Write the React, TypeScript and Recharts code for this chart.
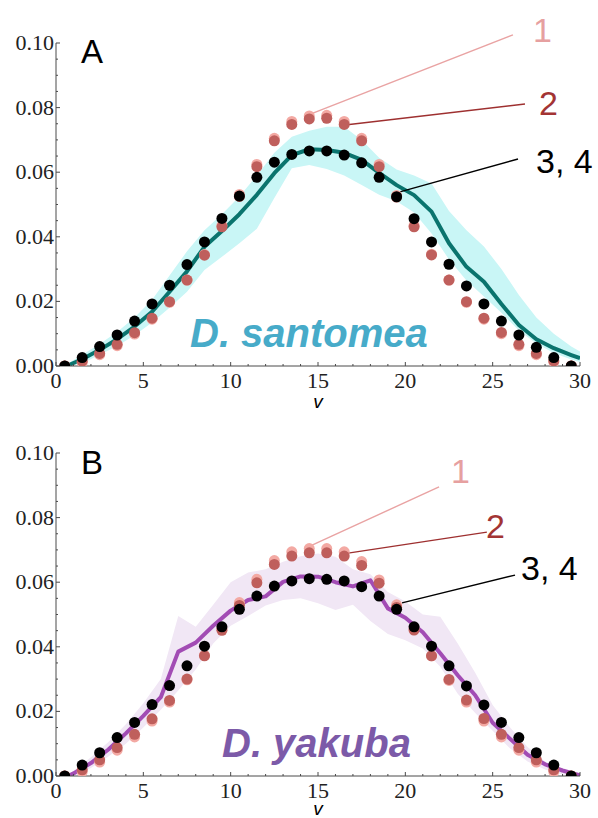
import { ComposedChart, Area, Line, Scatter, XAxis, YAxis, ReferenceLine } from 'recharts';

// sample points (v) shared by all dot series
const dotV = [0.5, 1.5, 2.5, 3.5, 4.5, 5.5, 6.5, 7.5, 8.5, 9.5, 10.5, 11.5, 12.5, 13.5, 14.5, 15.5, 16.5, 17.5, 18.5, 19.5, 20.5, 21.5, 22.5, 23.5, 24.5, 25.5, 26.5, 27.5, 28.5, 29.5];

// D. santomea
const santomea1 = [0, 0.0011, 0.0035, 0.0063, 0.0099, 0.0145, 0.0197, 0.0266, 0.0345, 0.0435, 0.0531, 0.0624, 0.0705, 0.0757, 0.0774, 0.0776, 0.0757, 0.0705, 0.0624, 0.0528, 0.0435, 0.0346, 0.0266, 0.0197, 0.0145, 0.01, 0.0063, 0.0035, 0.0012, 0];
const santomea2 = [0, 0.0015, 0.0039, 0.0067, 0.0103, 0.0148, 0.0199, 0.0266, 0.0343, 0.0431, 0.0525, 0.0617, 0.0697, 0.0748, 0.0765, 0.0767, 0.0748, 0.0697, 0.0617, 0.0523, 0.0431, 0.0344, 0.0266, 0.0199, 0.0148, 0.0104, 0.0067, 0.0039, 0.0016, 0];
const santomea34 = [0, 0.0026, 0.006, 0.0096, 0.0139, 0.0192, 0.025, 0.0314, 0.0384, 0.0457, 0.0526, 0.0584, 0.0631, 0.0655, 0.0666, 0.0666, 0.0653, 0.0629, 0.0584, 0.0524, 0.0456, 0.0384, 0.0315, 0.0248, 0.0192, 0.0139, 0.0096, 0.0058, 0.0026, 0];
const santomeaCurveV = [0.6, 1.5, 2.5, 3.5, 4.5, 5.5, 6.5, 7.5, 8.5, 9.5, 10.5, 11.5, 12.5, 13.5, 14.5, 15.5, 16.5, 17.5, 18.5, 19.5, 20.5, 21.5, 22.5, 23.5, 24.5, 25.5, 26.5, 27.5, 28.5, 29.5, 30];
const santomeaMid = [0, 0.0021, 0.005, 0.0083, 0.0122, 0.0168, 0.023, 0.0293, 0.0369, 0.0418, 0.047, 0.053, 0.0597, 0.0653, 0.0671, 0.0669, 0.066, 0.0638, 0.0598, 0.056, 0.0529, 0.0478, 0.038, 0.0307, 0.0261, 0.0192, 0.0127, 0.0083, 0.0055, 0.0034, 0.0024];
const santomeaLo = [0, 0.0008, 0.0035, 0.0062, 0.0095, 0.0135, 0.018, 0.023, 0.0297, 0.0338, 0.038, 0.0425, 0.052, 0.0612, 0.0622, 0.061, 0.059, 0.056, 0.053, 0.051, 0.0475, 0.041, 0.033, 0.0265, 0.0215, 0.0165, 0.011, 0.007, 0.004, 0.002, 0.0012];
const santomeaHi = [0.0005, 0.0035, 0.0068, 0.0105, 0.015, 0.0205, 0.028, 0.0355, 0.042, 0.047, 0.0525, 0.059, 0.066, 0.071, 0.0728, 0.0741, 0.0741, 0.07, 0.0645, 0.0608, 0.059, 0.0565, 0.048, 0.042, 0.037, 0.03, 0.022, 0.015, 0.01, 0.006, 0.0045];

// D. yakuba
const yakuba1 = [0, 0.0013, 0.0043, 0.008, 0.0121, 0.017, 0.0229, 0.0298, 0.0374, 0.0457, 0.0537, 0.0609, 0.0667, 0.0694, 0.0704, 0.0704, 0.0694, 0.0664, 0.0607, 0.053, 0.0456, 0.0372, 0.0296, 0.0229, 0.017, 0.0121, 0.008, 0.0043, 0.0013, 0];
const yakuba2 = [0, 0.0019, 0.005, 0.0088, 0.0129, 0.0177, 0.0234, 0.03, 0.0372, 0.0451, 0.0528, 0.0598, 0.0655, 0.0681, 0.0691, 0.0691, 0.0681, 0.0652, 0.0597, 0.0522, 0.0452, 0.0372, 0.0299, 0.0235, 0.0178, 0.0129, 0.0088, 0.005, 0.0019, 0];
const yakuba34 = [0, 0.0034, 0.0072, 0.0119, 0.0166, 0.0221, 0.028, 0.0341, 0.0402, 0.0462, 0.0516, 0.0557, 0.0588, 0.0604, 0.0611, 0.0609, 0.0604, 0.0586, 0.0557, 0.0516, 0.0462, 0.0402, 0.0341, 0.0279, 0.022, 0.0166, 0.0119, 0.0072, 0.0034, 0];
const yakubaCurveV = [0.7, 1, 2, 3, 4, 5, 6, 7, 8, 9, 10, 11, 12, 13, 14, 15, 16, 17, 18, 19, 20, 21, 22, 23, 24, 25, 26, 27, 28, 29, 30];
const yakubaMid = [0, 0.0008, 0.004, 0.0082, 0.0132, 0.0186, 0.0244, 0.0385, 0.0413, 0.0465, 0.0512, 0.0545, 0.0556, 0.0601, 0.0618, 0.0617, 0.06, 0.0587, 0.0606, 0.0519, 0.049, 0.0445, 0.038, 0.0312, 0.025, 0.0165, 0.0115, 0.0066, 0.0036, 0.0017, 0.0002];
const yakubaLo = [0, 0, 0.0025, 0.006, 0.01, 0.015, 0.0205, 0.0265, 0.033, 0.041, 0.0465, 0.0495, 0.0528, 0.0545, 0.055, 0.0535, 0.0514, 0.053, 0.048, 0.044, 0.042, 0.0395, 0.0338, 0.0255, 0.0195, 0.014, 0.0085, 0.0045, 0.002, 0.0005, 0];
const yakubaHi = [0.0003, 0.0015, 0.0058, 0.0105, 0.016, 0.0225, 0.03, 0.0495, 0.0462, 0.053, 0.06, 0.063, 0.064, 0.0663, 0.068, 0.0689, 0.0679, 0.064, 0.0625, 0.057, 0.054, 0.05, 0.0493, 0.041, 0.032, 0.022, 0.015, 0.009, 0.0045, 0.0022, 0.0006];

const xTicks = Array.from({ length: 31 }, (_, i) => i);
const yTicks = Array.from({ length: 21 }, (_, i) => i * 0.005);

const SERIF = 'Liberation Serif';
const SANS = '"Liberation Sans", Arial, sans-serif';
const AXIS = '#4a4a4a';

const dots = (ys: number[]) => dotV.map((v, i) => ({ v, y: ys[i] }));
const curve = (vs: number[], ys: number[]) => vs.map((v, i) => ({ v, y: ys[i] }));
const band = (vs: number[], lo: number[], hi: number[]) => vs.map((v, i) => ({ v, band: [lo[i], hi[i]] }));

const renderXTick = ({ x, y, payload }: any) => {
  const major = payload.value % 5 === 0;
  return (
    <g key={`x${payload.value}`}>
      <line x1={x} x2={x} y1={y} y2={y - (major ? 4 : 2)} stroke={AXIS} />
      {major && (
        <text x={x} y={y + 22} textAnchor="middle" fontFamily={SERIF} fontSize="22px" fill="#222">
          {payload.value}
        </text>
      )}
    </g>
  );
};

const renderYTick = ({ x, y, payload }: any) => {
  const major = Math.round(payload.value * 1000) % 20 === 0;
  return (
    <g key={`y${payload.value}`}>
      <line x1={x} x2={x + (major ? 4 : 2)} y1={y} y2={y} stroke={AXIS} />
      {major && (
        <text x={x - 2} y={y + 7} textAnchor="end" fontFamily={SERIF} fontSize="22px" fill="#222">
          {payload.value.toFixed(2)}
        </text>
      )}
    </g>
  );
};

const dot = (fill: string) => (p: any) => <circle cx={p.cx} cy={p.cy} r={5.5} fill={fill} />;

type Pointer = { from: [number, number]; to: [number, number]; color: string };

type PanelProps = {
  height: number;
  lineColor: string;
  bandColor: string;
  curveV: number[];
  mid: number[];
  lo: number[];
  hi: number[];
  s1: number[];
  s2: number[];
  s34: number[];
  pointers: Pointer[];
};

const Panel = ({ height, lineColor, bandColor, curveV, mid, lo, hi, s1, s2, s34, pointers }: PanelProps) => (
  <ComposedChart width={598} height={height} margin={{ top: 43, right: 18, left: 0, bottom: 0 }}>
    <XAxis
      type="number"
      dataKey="v"
      domain={[0, 30]}
      ticks={xTicks}
      interval={0}
      tick={renderXTick}
      tickSize={0}
      tickMargin={0}
      tickLine={false}
      axisLine={{ stroke: AXIS }}
      height={height - 366}
      allowDataOverflow
    />
    <YAxis
      type="number"
      domain={[0, 0.1]}
      ticks={yTicks}
      interval={0}
      tick={renderYTick}
      tickSize={0}
      tickMargin={0}
      tickLine={false}
      axisLine={{ stroke: AXIS }}
      width={56}
      allowDataOverflow
    />
    <Area
      data={band(curveV, lo, hi)}
      dataKey="band"
      type="linear"
      stroke="none"
      fill={bandColor}
      fillOpacity={1}
      isAnimationActive={false}
    />
    <Line
      data={curve(curveV, mid)}
      dataKey="y"
      type="linear"
      stroke={lineColor}
      strokeWidth={4}
      strokeLinejoin="round"
      dot={false}
      isAnimationActive={false}
    />
    <Scatter data={dots(s1)} dataKey="y" shape={dot('#f3a9a3')} isAnimationActive={false} />
    <Scatter data={dots(s2)} dataKey="y" shape={dot('#bf5f5c')} isAnimationActive={false} />
    <Scatter data={dots(s34)} dataKey="y" shape={dot('#000')} isAnimationActive={false} />
    {pointers.map((p, i) => (
      <ReferenceLine
        key={i}
        segment={[{ x: p.from[0], y: p.from[1] }, { x: p.to[0], y: p.to[1] }]}
        stroke={p.color}
        strokeWidth={1.4}
        ifOverflow="visible"
      />
    ))}
  </ComposedChart>
);

const Labels = ({ letter, letterY, species, speciesColor, speciesX, speciesY, tags, vY }: any) => (
  <>
    <text x={81} y={letterY} style={{ fontFamily: SANS, fontSize: 33 }} fill="#000">{letter}</text>
    <text
      x={speciesX}
      y={speciesY}
      style={{ fontFamily: SANS, fontSize: 40, fontWeight: 'bold', fontStyle: 'italic' }}
      fill={speciesColor}
    >
      {species}
    </text>
    {tags.map((t: any) => (
      <text key={t.text} x={t.x} y={t.y} style={{ fontFamily: SANS, fontSize: 34 }} fill={t.color}>{t.text}</text>
    ))}
    <text x={318} y={vY} textAnchor="middle" style={{ fontFamily: SANS, fontStyle: 'italic', fontSize: 19 }} fill="#000">v</text>
  </>
);

export default function App() {
  return (
    <div style={{ position: 'absolute', left: 0, top: 0, width: 598, height: 818, background: '#fff', overflow: 'hidden' }}>
      <div style={{ position: 'absolute', left: 0, top: 0 }}>
        <Panel
          height={410}
          lineColor="#0a746e"
          bandColor="#c9f6f6"
          curveV={santomeaCurveV}
          mid={santomeaMid}
          lo={santomeaLo}
          hi={santomeaHi}
          s1={santomea1}
          s2={santomea2}
          s34={santomea34}
          pointers={[
            { from: [26.16, 0.1025], to: [14.71, 0.0783], color: '#e9a3a3' },
            { from: [26.85, 0.0811], to: [16.55, 0.0746], color: '#9e3030' },
            { from: [26.45, 0.0641], to: [19.69, 0.0539], color: '#000' },
          ]}
        />
      </div>
      <div style={{ position: 'absolute', left: 0, top: 410 }}>
        <Panel
          height={408}
          lineColor="#a24cb4"
          bandColor="#f1e7f5"
          curveV={yakubaCurveV}
          mid={yakubaMid}
          lo={yakubaLo}
          hi={yakubaHi}
          s1={yakuba1}
          s2={yakuba2}
          s34={yakuba34}
          pointers={[
            { from: [21.93, 0.0895], to: [14.66, 0.0715], color: '#e9a3a3' },
            { from: [24.67, 0.0755], to: [16.72, 0.069], color: '#9e3030' },
            { from: [26.28, 0.0622], to: [19.81, 0.0536], color: '#000' },
          ]}
        />
      </div>
      <svg width={598} height={818} style={{ position: 'absolute', left: 0, top: 0, pointerEvents: 'none' }}>
        <Labels
          letter="A"
          letterY={63}
          species="D. santomea"
          speciesColor="#47abc9"
          speciesX={190}
          speciesY={347}
          vY={408}
          tags={[
            { text: '1', x: 533, y: 42, color: '#e6a0a0' },
            { text: '2', x: 539, y: 115, color: '#a33434' },
            { text: '3, 4', x: 536, y: 173, color: '#000' },
          ]}
        />
        <Labels
          letter="B"
          letterY={474}
          species="D. yakuba"
          speciesColor="#7c5aa8"
          speciesX={222}
          speciesY={757}
          vY={815}
          tags={[
            { text: '1', x: 451, y: 483, color: '#e6a0a0' },
            { text: '2', x: 486, y: 538, color: '#a33434' },
            { text: '3, 4', x: 521, y: 580, color: '#000' },
          ]}
        />
      </svg>
    </div>
  );
}
